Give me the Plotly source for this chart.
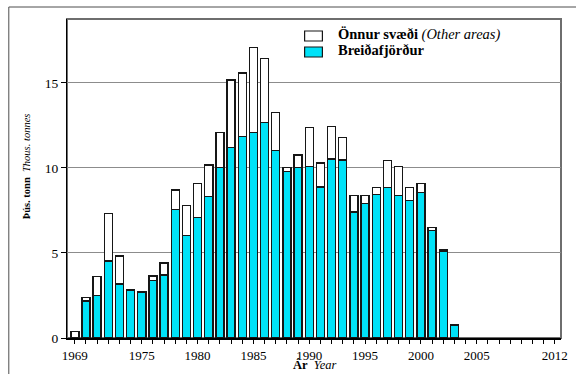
import plotly.graph_objects as go

years = list(range(1969, 2004))
breidafjordur = [0.0, 2.18, 2.51, 4.53, 3.18, 2.82, 2.69, 3.39, 3.71, 7.57,
                 6.04, 7.10, 8.31, 10.02, 11.20, 11.86, 12.10, 12.69, 11.04, 9.78,
                 10.04, 10.08, 8.88, 10.53, 10.47, 7.41, 7.90, 8.45, 8.86, 8.37,
                 8.10, 8.57, 6.33, 5.12, 0.76]
totals = [0.37, 2.39, 3.63, 7.33, 4.82, 2.86, 2.75, 3.65, 4.41, 8.71,
          7.78, 9.08, 10.18, 12.08, 15.18, 15.59, 17.08, 16.43, 13.25, 10.04,
          10.76, 12.39, 10.29, 12.43, 11.78, 8.37, 8.37, 8.86, 10.43, 10.10,
          8.86, 9.08, 6.51, 5.18, 0.76]
other = [round(t - b, 2) for t, b in zip(totals, breidafjordur)]

x_tick_labels = {1969: "1969", 1975: "1975", 1980: "1980", 1985: "1985", 1990: "1990",
                 1995: "1995", 2000: "2000", 2005: "2005", 2012: "2012"}
y_ticks = [0, 5, 10, 15]

FONT = "Liberation Serif"
CYAN = "#00E2F8"
EDGE = "#161616"

fig = go.Figure()
fig.add_trace(go.Bar(x=years, y=breidafjordur, name="Breiðafjörður",
                     marker=dict(color=CYAN, line=dict(color=EDGE, width=1.4)),
                     width=0.72, showlegend=False))
fig.add_trace(go.Bar(x=years, y=other, name="Önnur svæði (Other areas)",
                     marker=dict(color="white", line=dict(color=EDGE, width=1.4)),
                     width=0.72, showlegend=False))

all_years = list(range(1969, 2013))
fig.update_layout(
    barmode="stack",
    width=576, height=374,
    margin=dict(l=67, r=8, t=19, b=36),
    paper_bgcolor="white", plot_bgcolor="rgba(0,0,0,0)",
    font=dict(family=FONT, size=13, color="black"),
    xaxis=dict(range=[1968.3, 2012.55], tickmode="array", tickvals=all_years,
               ticktext=[x_tick_labels.get(y, "") for y in all_years],
               ticks="outside", ticklen=4, tickwidth=1, tickcolor="black",
               showline=True, linecolor="black", linewidth=2,
               showgrid=False, zeroline=False, tickfont=dict(size=13)),
    yaxis=dict(range=[0, 18.76], tickvals=y_ticks, ticks="outside", ticklen=5,
               tickcolor="black", showline=True, linecolor="black", linewidth=1,
               showgrid=True, gridcolor="#8c8c8c", gridwidth=1, zeroline=False,
               tickfont=dict(size=13.5)),
    shapes=[
        # outer frame
        dict(type="rect", xref="paper", yref="paper", x0=-0.1178, x1=1.3, y0=-0.4, y1=1.0376,
             line=dict(color="#4d4d4d", width=1), fillcolor="rgba(0,0,0,0)", layer="below"),
        # plot border (top and right gray)
        dict(type="rect", xref="paper", yref="paper", x0=0, x1=1, y0=0, y1=1,
             line=dict(color="#6e6e6e", width=2), fillcolor="rgba(0,0,0,0)", layer="below"),
        # legend swatches
        dict(type="rect", xref="paper", yref="paper", x0=0.481, x1=0.517, y0=0.931, y1=0.9624,
             fillcolor="white", line=dict(color=EDGE, width=1.2)),
        dict(type="rect", xref="paper", yref="paper", x0=0.481, x1=0.517, y0=0.8809, y1=0.9122,
             fillcolor=CYAN, line=dict(color=EDGE, width=1.2)),
    ],
    annotations=[
        dict(xref="paper", yref="paper", x=0.544, y=0.951, xanchor="left", yanchor="middle",
             text="<b>Önnur svæði</b> <i>(Other areas)</i>", showarrow=False,
             font=dict(size=14.5, family=FONT)),
        dict(xref="paper", yref="paper", x=0.544, y=0.902, xanchor="left", yanchor="middle",
             text="<b>Breiðafjörður</b>", showarrow=False, font=dict(size=14.5, family=FONT)),
        dict(xref="paper", yref="paper", x=0.50, y=-0.1125, xanchor="center", yanchor="bottom",
             text="<b>Ár</b>  <i>Year</i>", showarrow=False, font=dict(size=12.5, family=FONT)),
        dict(xref="paper", yref="paper", x=-0.082, y=0.54, xanchor="center", yanchor="middle",
             text="<b>Þús. tonn</b>  <i>Thous. tonnes</i>", textangle=-90, showarrow=False,
             font=dict(size=10.5, family=FONT)),
    ],
)

fig.write_html("out.html", config={"displayModeBar": False},
               post_script="document.body.style.margin='0';document.body.style.overflow='hidden';")
